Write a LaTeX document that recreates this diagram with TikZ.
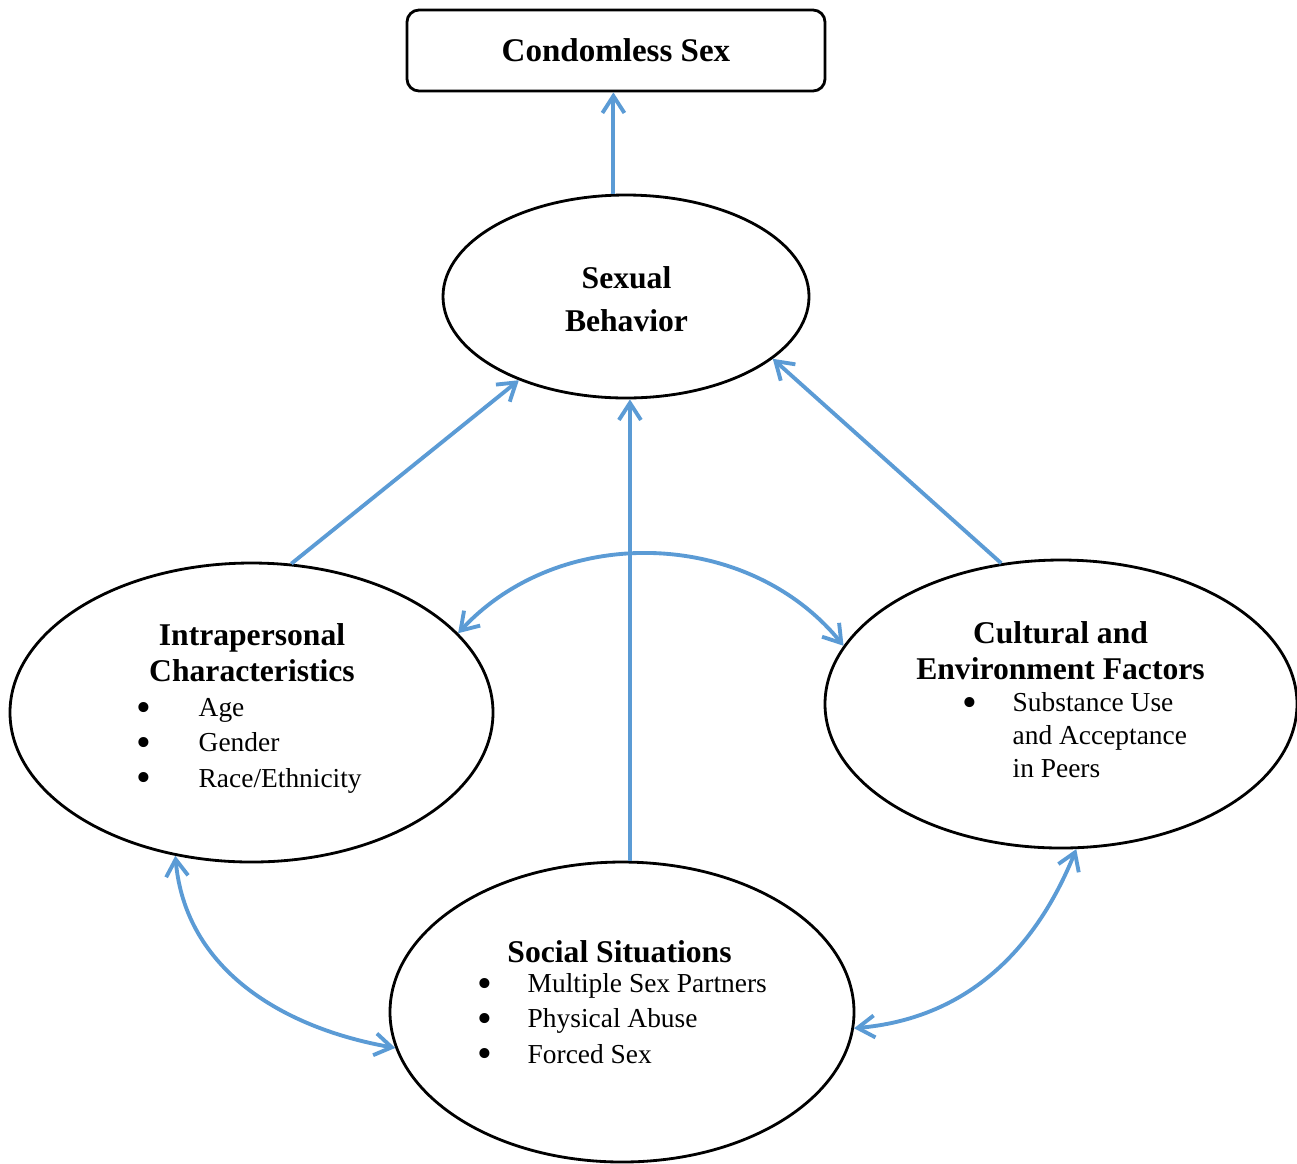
\documentclass[tikz,border=0pt]{standalone}
\usepackage{fontspec}
\setmainfont{Liberation Serif}
\usetikzlibrary{shapes.geometric, arrows.meta}

\definecolor{linkblue}{RGB}{91,155,213}
\newcommand{\itemdot}[1][10.2pt]{\llap{\smash{\fontsize{12}{10}\selectfont\raisebox{-1.3pt}{\textbullet}}\hspace{#1}}}

\begin{document}
\begin{tikzpicture}[
x=1cm, y=1cm,
every node/.style={font=\fontsize{7.8}{10}\selectfont},
outcomebox/.style={
    draw,
    line width=0.8pt,
    rounded corners=0.12cm,
    minimum width=4.18cm,
    minimum height=0.81cm,
    font=\fontsize{9.4}{11}\selectfont\bfseries
},
factor/.style={draw, ellipse, line width=0.8pt, inner sep=0pt},
heading/.style={align=center, anchor=base, inner sep=0pt, font=\fontsize{9}{10.2}\selectfont\bfseries},
itemlist/.style={align=left, anchor=base west, inner sep=0pt},
link/.style={draw=linkblue, line width=1.1pt, -{Straight Barb[length=1.7mm, width=2.2mm]}},
twoway/.style={link, {Straight Barb[length=1.7mm, width=2.2mm]}-{Straight Barb[length=1.7mm, width=2.2mm]}}
]

\useasboundingbox (0,0) rectangle (12.97,-11.63);

% =====================================================
% Outcome and central behaviour
% =====================================================

\node[outcomebox] (outcome) at (6.16,-0.505) {Condomless Sex};

\node[factor, minimum width=3.66cm, minimum height=2.03cm] (sexual) at (6.26,-2.965) {};
\node[heading, font=\fontsize{9}{12}\selectfont\bfseries] (sexualhead) at (6.265,-3.31) {Sexual\\Behavior};

% =====================================================
% Factors
% =====================================================

% Intrapersonal
\node[factor, minimum width=4.83cm, minimum height=2.99cm] (intra) at (2.515,-7.125) {};
\node[heading] (intrahead) at (2.52,-6.81) {Intrapersonal\\Characteristics};
\node[itemlist] (intralist) at (1.98,-7.87) {\itemdot[13.4pt]Age\\\itemdot[13.4pt]Gender\\\itemdot[13.4pt]Race/Ethnicity};

% Cultural and environment
\node[factor, minimum width=4.72cm, minimum height=2.88cm] (cult) at (10.61,-7.04) {};
\node[heading] (culthead) at (10.605,-6.79) {Cultural and\\Environment Factors};
\node[itemlist, font=\fontsize{7.8}{9.3}\selectfont] (cultlist) at (10.12,-7.77) {\itemdot Substance Use\\and Acceptance\\in Peers};

% Social situations
\node[factor, minimum width=4.64cm, minimum height=3.00cm] (social) at (6.22,-10.12) {};
\node[heading] (socialhead) at (6.195,-9.62) {Social Situations};
\node[itemlist] (sociallist) at (5.27,-10.63) {\itemdot Multiple Sex Partners\\\itemdot Physical Abuse\\\itemdot Forced Sex};

% =====================================================
% Connectors
% =====================================================

\draw[link] (sexual.97) -- (sexual.97 |- outcome.south);
\draw[link] (intra.75.6) -- (sexual.218);
\draw[link] (social.87) -- (social.87 |- sexual.south);
\draw[link] (cult.113.7) -- (sexual.337);

% Mutual influences
\draw[twoway] (intra.21) to[bend left=49] (cult.165);
\draw[twoway] (intra.242) to[out=-85, in=170] (social.189);
\draw[twoway] (social.356) to[out=5, in=248] (cult.276);

\end{tikzpicture}
\end{document}
